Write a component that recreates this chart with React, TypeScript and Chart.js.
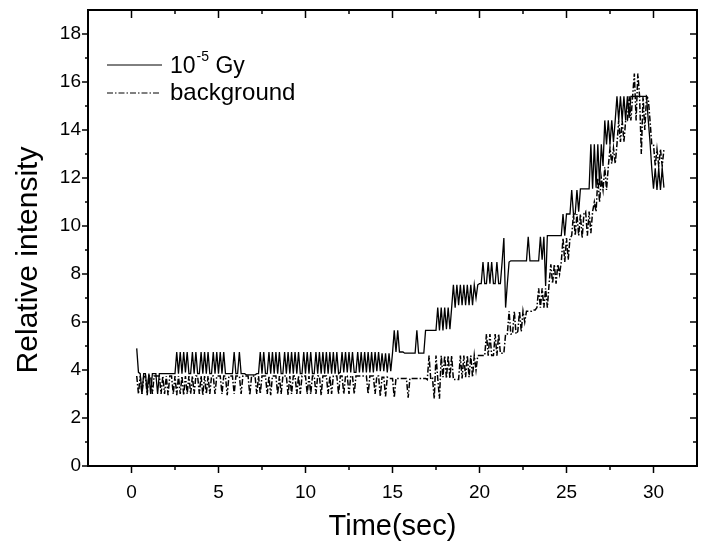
import React, { useEffect, useRef } from 'react';
import { Chart, registerables } from 'chart.js';

Chart.register(...registerables);

// Sampling of the recorded traces (seconds)
const TIME_START = 0.3;
const TIME_STEP = 0.1;

// 10^-5 Gy trace (solid)
const DOSE_VALUES = [
  4.9, 3.9, 3.85, 3.0, 3.85, 3.85, 3.1, 3.85, 3.0, 3.85,
  3.85, 3.85, 3.0, 3.85, 3.85, 3.85, 3.85, 3.85, 3.85, 3.85,
  3.85, 3.85, 3.85, 4.75, 3.85, 4.75, 3.85, 4.75, 3.9, 4.75,
  3.85, 3.85, 4.75, 3.85, 4.75, 3.85, 3.85, 4.75, 3.85, 4.75,
  3.85, 4.75, 3.85, 3.85, 4.75, 3.85, 4.75, 3.85, 4.75, 3.85,
  4.75, 3.85, 3.85, 3.85, 3.85, 3.85, 4.75, 3.85, 3.85, 4.75,
  3.85, 3.85, 3.85, 3.8, 3.8, 3.8, 3.8, 3.8, 3.8, 3.85,
  3.85, 4.75, 3.85, 4.75, 3.85, 3.85, 4.75, 3.85, 4.75, 3.85,
  4.75, 3.85, 4.75, 3.85, 3.85, 4.75, 3.85, 4.75, 3.85, 4.75,
  3.85, 4.75, 3.85, 4.75, 3.85, 3.85, 4.75, 3.85, 4.75, 3.85,
  4.75, 3.85, 3.85, 4.75, 3.85, 4.75, 3.85, 4.75, 3.85, 4.75,
  3.85, 4.75, 3.85, 4.75, 3.85, 4.75, 3.85, 3.9, 4.75, 3.9,
  4.75, 3.9, 4.75, 3.9, 4.75, 3.9, 3.9, 4.75, 3.9, 4.75,
  3.9, 4.75, 3.9, 4.75, 3.9, 4.75, 3.9, 4.75, 3.95, 4.75,
  3.95, 4.7, 3.95, 4.7, 3.9, 4.7, 3.95, 4.7, 5.65, 4.75,
  5.65, 4.75, 4.75, 4.75, 4.7, 4.7, 4.7, 4.7, 4.7, 4.7,
  4.7, 5.65, 4.7, 4.7, 4.7, 4.7, 5.65, 5.65, 5.65, 5.65,
  5.65, 5.65, 5.65, 6.6, 5.65, 6.6, 5.65, 6.6, 5.7, 6.6,
  5.7, 6.6, 7.55, 6.6, 7.55, 6.7, 7.55, 6.7, 7.55, 6.7,
  7.55, 6.7, 7.55, 6.7, 7.55, 7.0, 7.55, 7.6, 7.6, 8.5,
  7.6, 7.6, 8.5, 7.6, 8.5, 7.6, 7.6, 8.5, 7.6, 7.6,
  8.5, 9.5, 6.6, 7.6, 8.5, 8.55, 8.55, 8.55, 8.55, 8.55,
  8.55, 8.55, 8.55, 8.55, 8.55, 9.55, 8.55, 8.55, 8.55, 8.55,
  8.55, 8.55, 9.55, 8.6, 9.55, 7.5, 9.6, 9.6, 9.6, 9.6,
  9.6, 9.6, 9.6, 9.6, 9.6, 10.5, 9.6, 10.5, 10.5, 10.5,
  11.5, 10.5, 10.5, 11.5, 10.6, 11.55, 11.55, 11.55, 11.55, 11.55,
  11.55, 13.4, 11.55, 13.4, 11.6, 13.4, 11.7, 13.4, 12.5, 14.4,
  13.4, 14.4, 13.4, 14.4, 13.5, 14.4, 15.4, 14.4, 15.4, 14.4,
  15.4, 14.4, 15.4, 14.5, 15.4, 15.4, 15.4, 15.4, 15.4, 15.4,
  15.4, 15.4, 15.4, 15.4, 14.4, 13.5, 12.4, 11.55, 12.4, 11.5,
  12.4, 11.5, 12.4, 11.6,
];

// background trace (dash-dot)
const BACKGROUND_VALUES = [
  3.75, 3.0, 3.75, 3.0, 3.7, 3.75, 2.95, 3.75, 3.75, 3.0,
  3.75, 3.75, 3.75, 3.75, 3.0, 3.75, 3.0, 3.75, 2.95, 3.75,
  3.75, 3.0, 3.75, 2.95, 3.75, 3.0, 3.75, 2.95, 3.75, 3.0,
  3.75, 3.0, 3.75, 3.0, 3.75, 3.75, 3.0, 3.75, 2.95, 3.75,
  3.0, 3.75, 3.0, 3.75, 3.75, 3.0, 3.75, 3.75, 3.75, 3.0,
  3.75, 3.75, 2.95, 3.75, 3.75, 3.75, 3.0, 3.75, 3.75, 3.75,
  3.0, 3.75, 3.75, 3.75, 3.75, 2.95, 3.75, 3.75, 3.75, 3.0,
  3.75, 3.0, 3.75, 3.75, 3.75, 3.0, 3.75, 2.95, 3.75, 3.75,
  3.75, 3.0, 3.75, 3.0, 3.75, 3.75, 3.75, 2.95, 3.75, 3.0,
  3.75, 3.75, 3.0, 3.75, 3.0, 3.75, 3.75, 3.75, 3.0, 3.75,
  3.0, 3.75, 3.75, 3.0, 3.75, 3.75, 2.95, 3.75, 3.75, 3.75,
  3.0, 3.75, 3.0, 3.75, 3.75, 3.75, 3.0, 3.75, 3.75, 3.0,
  3.75, 3.75, 3.0, 3.75, 3.75, 3.0, 3.75, 3.75, 3.75, 3.75,
  3.75, 3.75, 3.75, 3.0, 3.75, 3.75, 3.75, 3.0, 3.75, 3.75,
  2.9, 3.7, 3.7, 2.9, 3.7, 3.65, 3.65, 3.65, 2.85, 3.65,
  3.65, 3.65, 3.65, 3.65, 3.65, 3.65, 2.85, 3.65, 3.65, 3.65,
  3.65, 3.65, 3.65, 3.65, 3.65, 3.65, 3.65, 3.6, 4.6, 3.6,
  3.65, 2.8, 4.6, 3.65, 2.8, 4.6, 3.7, 4.6, 3.65, 4.6,
  3.65, 4.6, 3.6, 3.6, 3.6, 3.6, 4.6, 3.65, 4.6, 3.7,
  4.6, 3.7, 4.6, 3.7, 4.6, 4.0, 4.6, 4.6, 4.6, 4.6,
  4.6, 5.5, 4.6, 5.5, 4.6, 4.6, 5.5, 4.6, 5.5, 4.7,
  4.7, 4.7, 5.5, 5.5, 6.45, 5.5, 5.5, 6.45, 5.5, 5.6,
  6.45, 5.6, 6.45, 6.0, 6.45, 6.45, 6.45, 6.45, 6.5, 6.5,
  6.6, 7.4, 6.6, 7.4, 6.6, 7.4, 6.6, 7.6, 8.4, 7.6,
  8.4, 7.6, 8.4, 8.0, 8.5, 9.5, 8.5, 9.5, 8.6, 9.5,
  9.6, 10.5, 9.6, 10.5, 9.6, 10.5, 9.5, 10.5, 10.6, 9.6,
  10.6, 9.7, 10.6, 11.0, 10.6, 12.0, 11.0, 12.0, 11.5, 12.45,
  11.5, 12.45, 13.25, 12.6, 13.25, 12.6, 13.4, 14.4, 13.5, 14.4,
  13.5, 14.4, 14.4, 15.4, 14.4, 15.4, 16.35, 14.4, 16.35, 15.4,
  13.0, 15.4, 14.0, 15.4, 15.3, 14.4, 13.4, 13.4, 12.5, 13.2,
  12.5, 13.2, 12.5, 13.2,
];

const SERIES_NAMES = ['10\u207B\u2075 Gy', 'background'];
const LEGEND_BASE = '10';
const LEGEND_SUP = '-5';
const LEGEND_REST = ' Gy';
const LEGEND_SECOND = 'background';

const X_MIN = -2.5;
const X_MAX = 32.5;
const Y_MIN = 0;
const Y_MAX = 19;
const X_MAJOR = [0, 5, 10, 15, 20, 25, 30];
const X_MINOR = [2.5, 7.5, 12.5, 17.5, 22.5, 27.5];
const Y_MAJOR = [0, 2, 4, 6, 8, 10, 12, 14, 16, 18];
const Y_MINOR = [1, 3, 5, 7, 9, 11, 13, 15, 17];
const X_TITLE = 'Time(sec)';
const Y_TITLE = 'Relative intensity';

const FONT = "'Liberation Sans', Arial, sans-serif";

const toPoints = (vals: number[]) =>
  vals.map((v, i) => ({ x: Math.round((TIME_START + i * TIME_STEP) * 100) / 100, y: v }));

const framePlugin = {
  id: 'framePlugin',
  afterDraw(chart: any) {
    const { ctx, chartArea, scales } = chart;
    const { left, right, top, bottom } = chartArea;
    const xs = scales.x;
    const ys = scales.y;
    ctx.save();
    ctx.strokeStyle = '#000';
    ctx.lineWidth = 2;
    ctx.strokeRect(left, top, right - left, bottom - top);
    ctx.lineWidth = 1.5;
    const seg = (x1: number, y1: number, x2: number, y2: number) => {
      ctx.beginPath();
      ctx.moveTo(x1, y1);
      ctx.lineTo(x2, y2);
      ctx.stroke();
    };
    X_MAJOR.forEach((v) => {
      const p = xs.getPixelForValue(v);
      seg(p, bottom, p, bottom + 7);
      seg(p, top, p, top + 8);
    });
    X_MINOR.forEach((v) => {
      const p = xs.getPixelForValue(v);
      seg(p, bottom, p, bottom + 4);
      seg(p, top, p, top + 4);
    });
    Y_MAJOR.forEach((v) => {
      const p = ys.getPixelForValue(v);
      seg(left - 6, p, left, p);
      seg(right - 7, p, right, p);
    });
    Y_MINOR.forEach((v) => {
      const p = ys.getPixelForValue(v);
      seg(left - 3, p, left, p);
      seg(right - 4, p, right, p);
    });

    // y axis title
    ctx.fillStyle = '#000';
    ctx.save();
    ctx.translate(29, (top + bottom) / 2 + 22);
    ctx.rotate(-Math.PI / 2);
    ctx.font = `30px ${FONT}`;
    ctx.textAlign = 'center';
    ctx.textBaseline = 'middle';
    ctx.fillText(Y_TITLE, 0, 0);
    ctx.restore();

    // legend
    const lx = left + 19;
    const y1 = top + 55;
    const y2 = top + 83;
    ctx.lineWidth = 1;
    ctx.setLineDash([]);
    seg(lx, y1, lx + 55, y1);
    ctx.setLineDash([6, 2, 1.5, 2]);
    seg(lx, y2, lx + 53, y2);
    ctx.setLineDash([]);
    ctx.textBaseline = 'alphabetic';
    ctx.textAlign = 'left';
    const tx = lx + 63;
    ctx.font = `23px ${FONT}`;
    ctx.fillText(LEGEND_BASE, tx, y1 + 8);
    let w = ctx.measureText(LEGEND_BASE).width;
    ctx.font = `14px ${FONT}`;
    ctx.fillText(LEGEND_SUP, tx + w + 1, y1 - 4);
    w += 1 + ctx.measureText(LEGEND_SUP).width;
    ctx.font = `23px ${FONT}`;
    ctx.fillText(LEGEND_REST, tx + w, y1 + 8);
    ctx.font = `24px ${FONT}`;
    ctx.fillText(LEGEND_SECOND, tx, y2 + 7);
    ctx.restore();
  },
};

export default function App() {
  const ref = useRef<HTMLCanvasElement | null>(null);
  useEffect(() => {
    if (!ref.current) return;
    const chart = new Chart(ref.current, {
      type: 'line',
      data: {
        datasets: [
          {
            label: SERIES_NAMES[0],
            data: toPoints(DOSE_VALUES),
            borderColor: '#000',
            borderWidth: 1.3,
            pointRadius: 0,
            tension: 0,
            fill: false,
          },
          {
            label: SERIES_NAMES[1],
            data: toPoints(BACKGROUND_VALUES),
            borderColor: '#000',
            borderWidth: 1.5,
            borderDash: [6, 2, 1.5, 2],
            pointRadius: 0,
            tension: 0,
            fill: false,
          },
        ],
      },
      options: {
        animation: false,
        responsive: false,
        devicePixelRatio: 1,
        layout: { padding: { top: 10, right: 8, left: 0, bottom: 0 } },
        plugins: { legend: { display: false }, tooltip: { enabled: false } },
        scales: {
          x: {
            type: 'linear',
            min: X_MIN,
            max: X_MAX,
            grid: { display: false, drawTicks: false },
            border: { display: false },
            afterBuildTicks: (s: any) => {
              s.ticks = X_MAJOR.map((v) => ({ value: v }));
            },
            afterFit: (s: any) => {
              s.height = 87;
              s.paddingLeft = 0;
              s.paddingRight = 0;
            },
            ticks: {
              color: '#000',
              padding: 15,
              maxRotation: 0,
              font: { family: FONT, size: 19 },
            },
            title: {
              display: true,
              text: X_TITLE,
              color: '#000',
              font: { family: FONT, size: 29 },
              padding: { top: 0, bottom: 9 },
            },
          },
          y: {
            type: 'linear',
            min: Y_MIN,
            max: Y_MAX,
            grid: { display: false, drawTicks: false },
            border: { display: false },
            afterBuildTicks: (s: any) => {
              s.ticks = Y_MAJOR.map((v) => ({ value: v }));
            },
            afterFit: (s: any) => {
              s.width = 88;
              s.paddingTop = 0;
              s.paddingBottom = 0;
            },
            ticks: {
              color: '#000',
              padding: 7,
              font: { family: FONT, size: 19 },
            },
            title: { display: false },
          },
        },
      },
      plugins: [framePlugin],
    } as any);
    return () => chart.destroy();
  }, []);
  return (
    <div style={{ position: 'fixed', left: 0, top: 0, width: 705, height: 553, background: '#fff' }}>
      <canvas ref={ref} width={705} height={553} style={{ display: 'block' }} />
    </div>
  );
}
